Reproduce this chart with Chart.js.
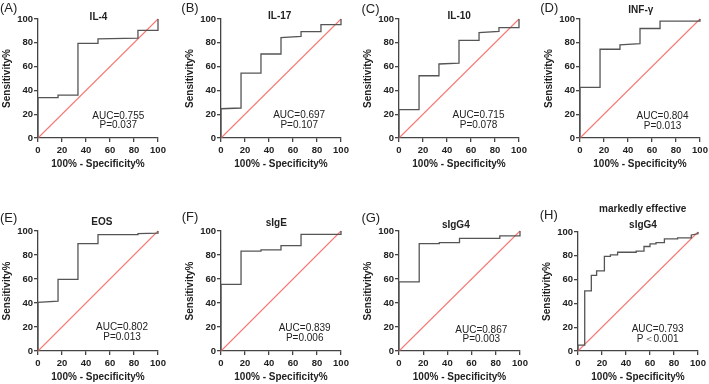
<!DOCTYPE html>
<html>
<head>
<meta charset="utf-8">
<script src="https://cdn.jsdelivr.net/npm/chart.js@4.4.1/dist/chart.umd.min.js"></script>
<style>
  html, body { margin: 0; padding: 0; background: #fff; }
  #wrap { position: relative; width: 709px; height: 384px; overflow: hidden;
          font-family: "Liberation Sans", Arial, sans-serif; color: #222; }
  #wrap canvas { position: absolute; }
  .txt { position: absolute; transform: translate(-50%, -50%); white-space: nowrap; line-height: 1; }
  .tag { font-size: 13px; }
  .ttl { font-size: 10px; font-weight: bold; }
  .auc { font-size: 10px; }
</style>
</head>
<body>
<div id="wrap"></div>
<script>
// labels and stats
const panelTags = ["(A)", "(B)", "(C)", "(D)", "(E)", "(F)", "(G)", "(H)"];
const panelTitles = ["IL-4", "IL-17", "IL-10", "INF-γ", "EOS", "sIgE", "sIgG4", "sIgG4"];
const subTitleH = "markedly effective";
const aucText = ["AUC=0.755", "AUC=0.697", "AUC=0.715", "AUC=0.804", "AUC=0.802", "AUC=0.839", "AUC=0.867", "AUC=0.793"];
const pText = ["P=0.037", "P=0.107", "P=0.078", "P=0.013", "P=0.013", "P=0.006", "P=0.003", "P＜0.001"];
const axisTicks = [0, 20, 40, 60, 80, 100];
const xTitle = "100% - Specificity%";
const yTitle = "Sensitivity%";

// ROC curves: 100% - specificity (x) and sensitivity (y)
const il4X  = [0, 0, 16.7, 16.7, 33.3, 33.3, 50, 50, 83.3, 83.3, 100, 100];
const il4Y  = [0, 34, 34, 36, 36, 79.5, 79.5, 83.3, 84, 90.5, 90.5, 100];
const il17X = [0, 0, 16.7, 16.7, 33.3, 33.3, 50, 50, 66.7, 66.7, 83.3, 83.3, 100, 100];
const il17Y = [0, 24.6, 25.2, 54.6, 54.6, 70.6, 70.6, 84.3, 85.3, 89.4, 89.4, 95.3, 95.3, 100];
const il10X = [0, 0, 16.7, 16.7, 33.3, 33.3, 50, 50, 66.7, 66.7, 83.3, 83.3, 100, 100];
const il10Y = [0, 23.8, 23.8, 52.3, 52.3, 62.2, 63, 82, 82, 88.6, 89.5, 92.8, 92.8, 100];
const infX  = [0, 0, 16.7, 16.7, 33.3, 33.3, 50, 50, 66.7, 66.7, 100, 100];
const infY  = [0, 42.5, 42.5, 74.6, 74.6, 78.3, 79.3, 92, 92, 98.2, 98.2, 100];
const eosX  = [0, 0, 16.7, 16.7, 33.3, 33.3, 50, 50, 83.3, 83.3, 100, 100];
const eosY  = [0, 40.6, 41.5, 59.7, 59.7, 89.5, 89.5, 97, 97, 97.8, 98.3, 100];
const igeX  = [0, 0, 16.7, 16.7, 33.3, 33.3, 50, 50, 66.7, 66.7, 100, 100];
const igeY  = [0, 55.6, 55.6, 83.3, 83.3, 84.2, 84.2, 87.8, 87.8, 97.2, 97.2, 100];
const igg4X = [0, 0, 16.7, 16.7, 33.3, 33.3, 50, 50, 83.3, 83.3, 100, 100];
const igg4Y = [0, 57.6, 57.6, 89.5, 89.5, 90.3, 90.3, 93.9, 93.9, 96, 96, 100];
const meX   = [0, 0, 5.6, 5.6, 11.1, 11.1, 15.5, 15.5, 22, 22, 27, 27, 33, 33, 48.5, 48.5, 55, 55, 60, 60, 65, 65, 72, 72, 83, 83, 94.4, 94.4, 100, 100];
const meY   = [0, 5, 5, 50.5, 50.5, 63.5, 63.5, 67.3, 67.3, 79.5, 79.5, 80.8, 80.8, 83, 83, 84, 84, 87.8, 87.8, 90, 90, 91, 91, 94.2, 94.2, 95, 95, 97.5, 98.5, 100];
const curveX = [il4X, il17X, il10X, infX, eosX, igeX, igg4X, meX];
const curveY = [il4Y, il17Y, il10Y, infY, eosY, igeY, igg4Y, meY];
const refX = [0, 100];
const refY = [0, 100];

// layout (page pixels)
const plotBox = [[38, 19, 158, 138], [221, 19, 341, 138], [399, 19, 519, 138], [580, 19, 700, 138],
                 [38, 231, 158, 351], [221, 231, 341, 351], [399, 231, 520, 351], [578, 232, 698, 351]];
const tagPos = [[8.7, 7.2], [190, 7.2], [370.5, 7.5], [549.3, 7], [8.7, 217], [190, 216], [370.8, 217.3], [548.8, 213.7]];
const titlePos = [[98.5, 17], [279.7, 16.3], [459.2, 16.3], [640.8, 10], [101.8, 222], [276.3, 223.3], [455.8, 225], [643, 225]];
const subTitlePos = [642.7, 209];
const aucPos = [[118.3, 116, 125.3], [299.2, 115.3, 125.3], [478.5, 115, 125], [662.5, 115.7, 126],
                [122, 327.3, 337.3], [304.7, 328, 338], [481.3, 329.7, 339.3], [657.7, 328.7, 339]];

const FONT = '"Liberation Sans", Arial, sans-serif';
const wrap = document.getElementById('wrap');

function addText(cls, text, x, y) {
  const d = document.createElement('div');
  d.className = 'txt ' + cls;
  d.textContent = text;
  d.style.left = x + 'px';
  d.style.top = y + 'px';
  wrap.appendChild(d);
}

function axis(title, isX) {
  return {
    type: 'linear', min: 0, max: 100,
    afterBuildTicks: s => { s.ticks = axisTicks.map(v => ({ value: v })); },
    ticks: { font: { family: FONT, size: 9.5, weight: 'bold' }, color: '#222',
             padding: isX ? 3 : 1, maxRotation: 0, autoSkip: false },
    grid: { drawOnChartArea: false, drawTicks: true, tickLength: 4, color: '#444', lineWidth: 1.3 },
    border: { color: '#444', width: 1.3 },
    title: { display: true, text: title, color: '#222',
             font: { family: FONT, size: 10, weight: 'bold' },
             padding: isX ? { top: 0, bottom: 0 } : { top: 1, bottom: 0 } },
    afterFit: s => {
      if (isX) s.height = 32; else s.width = 38;
      s.paddingLeft = s.paddingRight = s.paddingTop = s.paddingBottom = 0;
    }
  };
}

function drawPanel(i) {
  const [L, T, R, B] = plotBox[i];
  const cx = L - 38, cy = T - 10;
  const cv = document.createElement('canvas');
  cv.width = R + 10 - cx;
  cv.height = B + 32 - cy;
  cv.style.left = cx + 'px';
  cv.style.top = cy + 'px';
  wrap.appendChild(cv);

  const pts = curveX[i].map((x, k) => ({ x: x, y: curveY[i][k] }));
  const ref = refX.map((x, k) => ({ x: x, y: refY[k] }));

  new Chart(cv, {
    type: 'line',
    data: {
      datasets: [
        { data: pts, borderColor: '#555555', borderWidth: 1.3, pointRadius: 0, tension: 0, clip: false, order: 0 },
        { data: ref, borderColor: 'rgb(245,122,116)', borderWidth: 1.1, pointRadius: 0, tension: 0, clip: false, order: 1 }
      ]
    },
    options: {
      responsive: false,
      animation: false,
      layout: { padding: { left: 0, top: 10, right: 10, bottom: 0 } },
      plugins: { legend: { display: false }, tooltip: { enabled: false } },
      scales: { x: axis(xTitle, true), y: axis(yTitle, false) }
    }
  });

  addText('tag', panelTags[i], tagPos[i][0], tagPos[i][1]);
  addText('ttl', panelTitles[i], titlePos[i][0], titlePos[i][1]);
  addText('auc', aucText[i], aucPos[i][0], aucPos[i][1]);
  addText('auc', pText[i], aucPos[i][0], aucPos[i][2]);
}

for (let i = 0; i < 8; i++) drawPanel(i);
addText('ttl', subTitleH, subTitlePos[0], subTitlePos[1]);
</script>
</body>
</html>
